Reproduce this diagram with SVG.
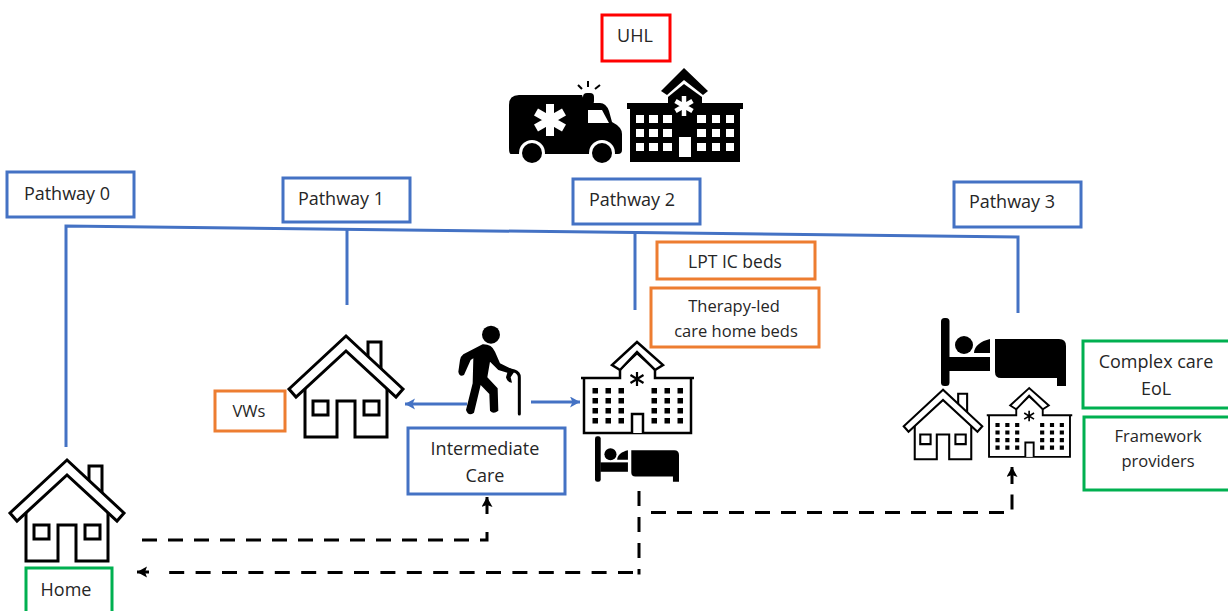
<svg xmlns="http://www.w3.org/2000/svg" xmlns:xlink="http://www.w3.org/1999/xlink" width="1228" height="611" viewBox="0 0 1228 611">
<style>
text{font-family:"Open Sans","Liberation Sans",sans-serif;font-size:18px;fill:#262626;text-anchor:middle}
.small{font-size:16.5px}
.box{fill:#fff;stroke-width:3}
.blue{stroke:#4472c4}.orange{stroke:#ed7d31}.green{stroke:#00b050}.red{stroke:#f00}
.line{fill:none;stroke:#4472c4;stroke-width:3}
.dash{fill:none;stroke:#000;stroke-width:3;stroke-dasharray:15 11}
.solid{fill:none;stroke:#000;stroke-width:3}
.ol{fill:#fff;stroke:#000;stroke-linejoin:miter}
</style>
<defs>
<marker id="ab" markerUnits="userSpaceOnUse" markerWidth="12" markerHeight="12" refX="10" refY="5.5" orient="auto"><path d="M0 0L10 5.5L0 11L2.5 5.5Z" fill="#4472c4"/></marker>
<marker id="ak" markerUnits="userSpaceOnUse" markerWidth="12" markerHeight="12" refX="10" refY="5.5" orient="auto"><path d="M0 0L10 5.5L0 11L2 5.5Z" fill="#000"/></marker>
<symbol id="house" viewBox="0 0 116 103" overflow="visible">
<path class="ol" stroke-width="3" d="M80 24V7H93V34"/>
<path class="ol" stroke-width="3" d="M17 50V102H49V66H67V102H99V50L58 15Z"/>
<path fill="none" stroke="#000" stroke-width="3" d="M25 66H40V80H25ZM76 66H91V80H76Z"/>
<path class="ol" stroke-width="3" d="M58 1L1 54L8 62L58 16L108 62L115 54Z"/>
</symbol>
<symbol id="hosp" viewBox="0 0 115 93" overflow="visible">
<path class="ol" stroke-width="2.5" d="M4 37V92H111V37"/>
<path class="ol" stroke-width="2.5" d="M1 37H40V28L57 12L75 28V37H114"/>
<path class="ol" stroke-width="2.5" d="M57 1L32 24L40 29L57 11L75 29L83 24Z"/>
<path fill="none" stroke="#000" stroke-width="2.2" d="M57 31V45M50.5 34L63.5 42M50.5 42L63.5 34"/>
<path fill="#000" d="M12.5 47h5.5v5.5h-5.5zM25.5 47h5.5v5.5h-5.5zM38.5 47h5.5v5.5h-5.5zM71.5 47h5.5v5.5h-5.5zM84.5 47h5.5v5.5h-5.5zM97.5 47h5.5v5.5h-5.5zM12.5 57h5.5v5.5h-5.5zM25.5 57h5.5v5.5h-5.5zM38.5 57h5.5v5.5h-5.5zM71.5 57h5.5v5.5h-5.5zM84.5 57h5.5v5.5h-5.5zM97.5 57h5.5v5.5h-5.5zM12.5 67h5.5v5.5h-5.5zM25.5 67h5.5v5.5h-5.5zM38.5 67h5.5v5.5h-5.5zM71.5 67h5.5v5.5h-5.5zM84.5 67h5.5v5.5h-5.5zM97.5 67h5.5v5.5h-5.5zM12.5 77h5.5v5.5h-5.5zM25.5 77h5.5v5.5h-5.5zM38.5 77h5.5v5.5h-5.5zM71.5 77h5.5v5.5h-5.5zM84.5 77h5.5v5.5h-5.5zM97.5 77h5.5v5.5h-5.5z"/>
<path class="ol" stroke-width="2.5" d="M52 92V73H63V92"/>
</symbol>
<symbol id="bed" viewBox="0 0 125 68" overflow="visible">
<rect x="0" y="0" width="8.5" height="68" rx="3.5" fill="#000"/>
<rect x="8" y="39" width="41" height="14" fill="#000"/>
<circle cx="23" cy="27" r="9" fill="#000"/>
<path d="M33 35C33 28 40 23 49 21V35Z" fill="#000"/>
<path d="M54 21H118Q125 21 125 28V68H116V60H60Q54 60 54 54Z" fill="#000"/>
</symbol>
</defs>

<g id="connectors">
<path class="line" d="M66 447V226L1018 237V313"/>
<path class="line" d="M347 230V305"/>
<path class="line" d="M635 233V310"/>
<path class="line" marker-end="url(#ab)" d="M467 404H405"/>
<path class="line" marker-end="url(#ab)" d="M531 402H580"/>
<path class="dash" d="M142 540H487V522"/>
<path class="solid" marker-end="url(#ak)" d="M487 514V497"/>
<path class="dash" d="M639 491V570"/>
<path class="solid" d="M639 570V574.5"/>
<path class="dash" style="stroke-dasharray:15 11.4" d="M633 572.5H169"/>
<path class="solid" marker-end="url(#ak)" d="M149 572H137"/>
<path class="dash" d="M651 512.5H1012V494"/>
<path class="solid" marker-end="url(#ak)" d="M1012 484V467"/>
</g>

<g id="uhl"><rect class="box red" x="602" y="15" width="68" height="46"/><text x="635" y="42">UHL</text></g>
<g id="ambulance">
<path d="M509 105Q509 95 519 95H582L585 103H600Q606 103 609 111L612 122Q622 127 622 134V150Q622 154 618 154H511Q509 154 509 148Z" fill="#000"/>
<rect x="583" y="93" width="11" height="12" rx="4" fill="#000"/>
<path d="M578 85L582 89M588 81V87M600 85L595 89" stroke="#000" stroke-width="2" fill="none"/>
<path d="M588 110H602L609 123H588Z" fill="#fff"/>
<path d="M550 104V136M536 112L564 128M536 128L564 112" stroke="#fff" stroke-width="8"/>
<circle cx="532" cy="153" r="13" fill="#fff"/><circle cx="532" cy="153" r="10" fill="#000"/>
<circle cx="602" cy="153" r="13" fill="#fff"/><circle cx="602" cy="153" r="10" fill="#000"/>
</g>
<g id="hospital-main">
<path d="M684 68L661 91L667 95L684 80L703 95L708 91Z" fill="#000"/>
<path d="M668 104V97L684 84L702 97V104Z" fill="#000"/>
<rect x="627" y="103" width="116" height="6" fill="#000"/>
<rect x="630" y="108" width="110" height="54" fill="#000"/>
<path fill="#fff" d="M636 115h8v8h-8zM649 115h9v8h-9zM663 115h9v8h-9zM697 115h9v8h-9zM712 115h8v8h-8zM726 115h8v8h-8zM636 129h8v8h-8zM649 129h9v8h-9zM663 129h9v8h-9zM697 129h9v8h-9zM712 129h8v8h-8zM726 129h8v8h-8zM636 143h8v8h-8zM649 143h9v8h-9zM663 143h9v8h-9zM697 143h9v8h-9zM712 143h8v8h-8zM726 143h8v8h-8zM679 137h12v20h-12z"/>
<path d="M684 96V116M675.5 101L692.5 111M675.5 111L692.5 101" stroke="#fff" stroke-width="4.5"/>
</g>

<g id="pathway0"><rect class="box blue" x="7" y="172" width="127" height="45"/><text x="67" y="200">Pathway 0</text></g>
<g id="pathway1"><rect class="box blue" x="283" y="178" width="127" height="44"/><text x="341" y="205">Pathway 1</text></g>
<g id="pathway2"><rect class="box blue" x="573" y="179" width="127" height="45"/><text x="632" y="206">Pathway 2</text></g>
<g id="pathway3"><rect class="box blue" x="954" y="182" width="127" height="45"/><text x="1012" y="208">Pathway 3</text></g>
<g id="lpt"><rect class="box orange" x="657" y="242" width="158" height="37"/><text x="735" y="268" style="font-size:17.5px">LPT IC beds</text></g>
<g id="therapy"><rect class="box orange" x="651" y="288" width="168" height="59"/><text class="small" x="734" y="312">Therapy-led</text><text class="small" x="736" y="337">care home beds</text></g>
<g id="vws"><rect class="box orange" x="215" y="391" width="70" height="40"/><text class="small" x="249" y="417">VWs</text></g>
<g id="house1"><use xlink:href="#house" href="#house" x="288" y="335" width="116" height="103"/></g>
<g id="walker" transform="translate(450 320) scale(.3333)">
<circle cx="123" cy="44" r="27" fill="#000"/>
<path fill="#000" d="M98 73L40 103Q33 108 30 120L25 155Q28 172 42 165L62 120L70 115L68 190L48 270Q55 290 72 278L92 195L118 222L120 272Q130 285 145 272L143 205L112 172L120 125L145 150L172 158L168 172Q172 188 186 188L182 172L190 160L195 152L150 130L135 95Q125 72 98 73Z"/>
<path d="M165 146L193 153Q208 158 208 172V282" fill="none" stroke="#000" stroke-width="9" stroke-linecap="round"/>
</g>
<g id="hospital-ic"><use xlink:href="#hosp" href="#hosp" x="580" y="341" width="115" height="93"/></g>
<g id="bed-ic"><use xlink:href="#bed" href="#bed" x="595" y="436" width="84" height="46"/></g>
<g id="ic"><rect class="box blue" x="408" y="428" width="157" height="66"/><text x="485" y="455">Intermediate</text><text x="485" y="482">Care</text></g>
<g id="bed-3"><use xlink:href="#bed" href="#bed" x="941" y="318" width="125" height="68"/></g>
<g id="house3"><use xlink:href="#house" href="#house" x="903" y="389" width="80" height="71"/></g>
<g id="hospital-3"><use xlink:href="#hosp" href="#hosp" x="986" y="387" width="87" height="71"/></g>
<g id="complex"><rect class="box green" x="1083" y="341" width="150" height="67"/><text x="1156" y="368">Complex care</text><text x="1156" y="395">EoL</text></g>
<g id="framework"><rect class="box green" x="1084" y="417" width="150" height="73"/><text class="small" x="1158" y="442">Framework</text><text class="small" x="1158" y="467">providers</text></g>
<g id="house0"><use xlink:href="#house" href="#house" x="9" y="459" width="116" height="103"/></g>
<g id="home"><rect class="box green" x="26" y="568" width="86" height="50"/><text x="66" y="596">Home</text></g>
</svg>
